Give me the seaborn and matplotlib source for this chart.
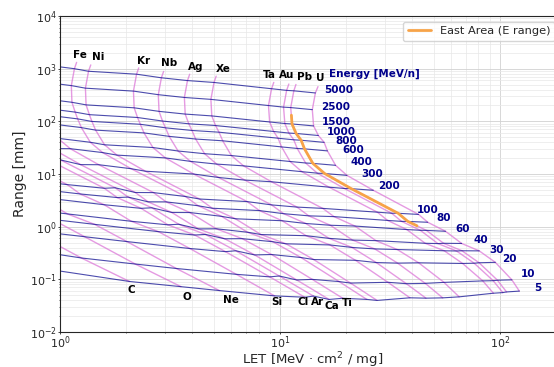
import matplotlib
matplotlib.use("Agg")
import matplotlib.pyplot as plt
import pandas as pd
import seaborn as sns

# --- DATA ---
# energy grid [MeV/n]; the first value only extends the ion curves upwards
energies = [6500, 5000, 2500, 1500, 1000, 800, 600, 400, 300, 200,
            100, 80, 60, 40, 30, 20, 10, 5]
line_energies = [5000, 2500, 1500, 1000, 800, 600, 400, 300, 200,
                 100, 80, 60, 40, 30, 20, 10, 5]
ions = ["Be", "C", "O", "Ne", "Si", "Cl", "Ar", "Ca", "Ti", "Fe", "Ni",
        "Kr", "Nb", "Ag", "Xe", "Ta", "Au", "Pb", "U"]

# LET in silicon [MeV cm2/mg], one value per energy
let_Be = [0.0282, 0.0275, 0.0266, 0.0268, 0.0277, 0.0283, 0.0294, 0.0323, 0.0368, 0.0496, 0.088, 0.1008, 0.1296, 0.1728, 0.2304, 0.3248, 0.56, 0.943]
let_C = [0.0634, 0.0619, 0.0599, 0.0603, 0.0623, 0.0637, 0.0662, 0.0727, 0.0828, 0.1116, 0.198, 0.2268, 0.2916, 0.3888, 0.5184, 0.7308, 1.251, 2.069]
let_O = [0.1126, 0.1101, 0.1066, 0.1072, 0.1107, 0.1133, 0.1178, 0.1293, 0.1472, 0.1984, 0.352, 0.4032, 0.5184, 0.6912, 0.9216, 1.295, 2.200, 3.549]
let_Ne = [0.176, 0.172, 0.1665, 0.1675, 0.173, 0.177, 0.184, 0.202, 0.230, 0.310, 0.550, 0.630, 0.810, 1.080, 1.437, 2.016, 3.381, 5.307]
let_Si = [0.345, 0.337, 0.326, 0.328, 0.339, 0.347, 0.361, 0.396, 0.451, 0.608, 1.078, 1.235, 1.588, 2.110, 2.800, 3.895, 6.339, 9.458]
let_Cl = [0.509, 0.497, 0.481, 0.484, 0.500, 0.512, 0.532, 0.584, 0.665, 0.896, 1.590, 1.821, 2.336, 3.096, 4.099, 5.656, 8.992, 12.98]
let_Ar = [0.570, 0.557, 0.539, 0.543, 0.561, 0.573, 0.596, 0.654, 0.745, 1.004, 1.782, 2.041, 2.616, 3.468, 4.582, 6.301, 9.934, 14.21]
let_Ca = [0.704, 0.688, 0.666, 0.670, 0.692, 0.708, 0.736, 0.808, 0.920, 1.240, 2.200, 2.515, 3.224, 4.264, 5.616, 7.682, 11.93, 16.73]
let_Ti = [0.852, 0.832, 0.806, 0.811, 0.837, 0.857, 0.891, 0.978, 1.113, 1.500, 2.662, 3.040, 3.893, 5.133, 6.740, 9.167, 14.03, 19.32]
let_Fe = [1.190, 1.163, 1.126, 1.133, 1.172, 1.203, 1.251, 1.373, 1.563, 2.107, 3.722, 4.250, 5.432, 7.118, 9.284, 12.47, 18.58, 24.83]
let_Ni = [1.380, 1.348, 1.305, 1.314, 1.360, 1.397, 1.452, 1.594, 1.815, 2.446, 4.310, 4.922, 6.277, 8.200, 10.66, 14.25, 20.95, 27.65]
let_Kr = [2.281, 2.229, 2.158, 2.174, 2.252, 2.319, 2.410, 2.646, 3.013, 4.053, 7.097, 8.072, 10.23, 13.16, 16.89, 22.06, 30.99, 39.01]
let_Nb = [2.959, 2.891, 2.799, 2.821, 2.925, 3.017, 3.136, 3.443, 3.920, 5.262, 9.161, 10.40, 13.11, 16.72, 21.27, 27.43, 37.56, 46.16]
let_Ag = [3.888, 3.799, 3.678, 3.710, 3.851, 3.982, 4.139, 4.544, 5.158, 6.925, 11.96, 13.52, 16.95, 21.39, 27.00, 34.30, 45.82, 54.99]
let_Xe = [5.132, 5.016, 4.855, 4.901, 5.097, 5.286, 5.495, 6.015, 6.835, 9.148, 15.65, 17.62, 21.94, 27.33, 34.17, 42.75, 55.77, 65.31]
let_Ta = [9.379, 9.166, 8.873, 8.982, 9.365, 9.809, 10.18, 11.12, 12.59, 16.73, 27.75, 30.89, 37.76, 45.77, 55.88, 67.74, 83.69, 93.54]
let_Au = [10.98, 10.73, 10.39, 10.53, 10.99, 11.56, 11.99, 13.09, 14.79, 19.62, 32.21, 35.76, 43.51, 52.28, 63.55, 76.46, 93.30, 103.2]
let_Pb = [11.83, 11.57, 11.20, 11.35, 11.85, 12.49, 12.94, 14.12, 15.97, 21.12, 34.49, 38.18, 46.37, 55.50, 67.25, 80.47, 97.61, 107.3]
let_U = [14.90, 14.50, 14.04, 14.23, 14.96, 15.89, 16.45, 17.91, 20.18, 26.59, 42.72, 47.03, 56.65, 67.09, 80.63, 95.43, 113.5, 122.7]

# range in silicon [mm], one value per energy
rng_Be = [8778, 6656, 3178, 1532, 998.3, 740.1, 504.9, 263.9, 167.0, 82.05, 24.04, 15.95, 9.926, 4.774, 3.027, 1.419, 0.4236, 0.149]
rng_C = [5222, 3960, 1891, 911, 594, 440, 300, 157, 99.3, 48.8, 14.33, 9.52, 5.93, 2.873, 1.818, 0.851, 0.2544, 0.0911]
rng_O = [3928, 2978, 1422, 685.5, 446.7, 331.2, 225.9, 118.1, 74.7, 36.7, 10.80, 7.19, 4.494, 2.172, 1.374, 0.644, 0.1951, 0.0726]
rng_Ne = [3149, 2387, 1140, 549.5, 358.1, 265.5, 181.1, 94.7, 59.9, 29.5, 8.70, 5.79, 3.62, 1.747, 1.106, 0.521, 0.1607, 0.0612]
rng_Si = [2256, 1710, 816.8, 393.6, 256.5, 190.2, 129.7, 67.8, 43.0, 21.19, 6.29, 4.18, 2.61, 1.265, 0.805, 0.3846, 0.1244, 0.0485]
rng_Cl = [1916, 1453, 693.7, 334.3, 217.9, 161.5, 110.2, 57.8, 36.6, 18.1, 5.36, 3.57, 2.229, 1.084, 0.694, 0.3356, 0.1114, 0.0457]
rng_Ar = [1956, 1483, 708.1, 341.3, 222.4, 164.9, 112.5, 58.97, 37.38, 18.53, 5.475, 3.646, 2.282, 1.111, 0.7132, 0.3486, 0.1157, 0.0481]
rng_Ca = [1585, 1202, 573.9, 276.6, 180.3, 133.6, 91.3, 47.8, 30.4, 15.07, 4.454, 2.963, 1.860, 0.907, 0.588, 0.2906, 0.0972, 0.0415]
rng_Ti = [1574, 1193, 569.9, 274.7, 179.0, 132.7, 90.8, 47.6, 30.28, 15.01, 4.435, 2.956, 1.855, 0.9128, 0.5916, 0.2958, 0.0998, 0.0437]
rng_Fe = [1316, 998.4, 476.8, 229.8, 149.7, 111.3, 76.0, 40.05, 25.5, 12.6, 3.735, 2.494, 1.569, 0.7843, 0.5175, 0.2596, 0.0907, 0.0416]
rng_Ni = [1177, 892.5, 426.2, 205.4, 133.9, 99.5, 68.1, 35.87, 22.84, 11.29, 3.351, 2.240, 1.413, 0.709, 0.4727, 0.2375, 0.0849, 0.0398]
rng_Kr = [1035, 784.9, 374.8, 180.6, 118.2, 87.9, 60.3, 31.81, 20.22, 9.99, 2.993, 2.020, 1.296, 0.6735, 0.4498, 0.2299, 0.0878, 0.0446]
rng_Nb = [885.3, 671.2, 320.6, 154.6, 101.3, 75.3, 51.85, 27.33, 17.37, 8.583, 2.591, 1.764, 1.149, 0.6002, 0.4034, 0.2083, 0.0827, 0.0439]
rng_Ag = [783.9, 594.3, 283.9, 137.3, 89.83, 67.1, 46.12, 24.29, 15.42, 7.662, 2.353, 1.605, 1.064, 0.5565, 0.3781, 0.2032, 0.0838, 0.0445]
rng_Xe = [721.7, 547.1, 261.3, 126.7, 83.24, 62.18, 42.69, 22.40, 14.27, 7.124, 2.225, 1.552, 1.027, 0.543, 0.3681, 0.2060, 0.0875, 0.0465]
rng_Ta = [548.8, 416.1, 199.5, 97.23, 64.19, 47.81, 32.67, 17.28, 11.07, 5.620, 1.884, 1.313, 0.8815, 0.4836, 0.3487, 0.2002, 0.0934, 0.0545]
rng_Au = [510.6, 387.1, 186.1, 90.87, 59.88, 44.60, 30.56, 16.18, 10.37, 5.314, 1.800, 1.261, 0.8526, 0.4775, 0.3454, 0.2024, 0.0943, 0.0560]
rng_Pb = [500.7, 379.6, 182.5, 89.27, 58.82, 43.73, 30.02, 15.91, 10.22, 5.263, 1.795, 1.257, 0.8492, 0.4835, 0.3490, 0.2065, 0.0961, 0.0576]
rng_U = [456.1, 345.8, 166.7, 81.84, 53.82, 39.9, 27.47, 14.62, 9.41, 4.906, 1.708, 1.212, 0.8173, 0.4796, 0.3469, 0.2101, 0.0977, 0.0598]

# East Area energy window (Pb beam)
east_energy = [2000, 1500, 1000, 800, 600, 400, 300, 200, 100, 80, 70]
east_let = [11.28, 11.35, 11.85, 12.49, 12.94, 14.12, 15.97, 21.12, 34.49, 38.18, 42.0]
east_range = [131, 89.27, 58.82, 43.73, 30.02, 15.91, 10.22, 5.263, 1.795, 1.257, 1.04]

# --- LABEL PLACEMENT (data coordinates) ---
top_ions = ["Fe", "Ni", "Kr", "Nb", "Ag", "Xe", "Ta", "Au", "Pb", "U"]
top_x = [1.237, 1.491, 2.409, 3.12, 4.15, 5.52, 8.94, 10.68, 13.0, 15.2]
top_y = [1820, 1690, 1400, 1266, 1091, 974, 760, 760, 705, 657]
bottom_ions = ["C", "O", "Ne", "Si", "Cl", "Ar", "Ca", "Ti"]
bottom_x = [2.118, 3.79, 5.975, 9.69, 12.76, 14.84, 17.3, 20.17]
bottom_y = [0.0632, 0.0472, 0.0408, 0.0379, 0.0379, 0.0379, 0.0314, 0.0353]
elabel_x = [15.9, 15.36, 15.57, 16.3, 17.9, 19.2, 21.0, 23.5, 28.0,
            41.8, 51.5, 63.1, 75.7, 89.3, 102, 124, 144]
elabel_y = [394, 185, 98.7, 63.8, 43.0, 28.3, 17.2, 10.0, 5.94,
            2.08, 1.45, 0.897, 0.562, 0.363, 0.245, 0.1256, 0.0699]

# --- BUILD TABLE ---
ion_let = dict(zip(ions, [let_Be, let_C, let_O, let_Ne, let_Si, let_Cl, let_Ar,
                          let_Ca, let_Ti, let_Fe, let_Ni, let_Kr, let_Nb, let_Ag,
                          let_Xe, let_Ta, let_Au, let_Pb, let_U]))
ion_rng = dict(zip(ions, [rng_Be, rng_C, rng_O, rng_Ne, rng_Si, rng_Cl, rng_Ar,
                          rng_Ca, rng_Ti, rng_Fe, rng_Ni, rng_Kr, rng_Nb, rng_Ag,
                          rng_Xe, rng_Ta, rng_Au, rng_Pb, rng_U]))
rows = []
for ion in ions:
    for e, l, r in zip(energies, ion_let[ion], ion_rng[ion]):
        rows.append((ion, e, l, r))
df = pd.DataFrame(rows, columns=["ion", "energy", "let", "range"])
df_lines = df[df["energy"].isin(line_energies)]
df_ions = df[df["ion"] != "Be"]

# --- PLOT ---
sns.set_style("ticks")
plt.rcParams["font.family"] = ["DejaVu Sans"]

fig = plt.figure(figsize=(5.54, 3.67), dpi=100)
ax = fig.add_axes([60 / 554, 35 / 367, 506 / 554, 316 / 367])
ax.set_xscale("log")
ax.set_yscale("log")

sns.lineplot(data=df_ions, x="let", y="range", units="ion", estimator=None,
             sort=False, color="orchid", alpha=0.7, lw=1.0, ax=ax, legend=False)
sns.lineplot(data=df_lines, x="let", y="range", units="energy", estimator=None,
             sort=False, color="darkblue", alpha=0.7, lw=0.8, ax=ax, legend=False)
sns.lineplot(x=east_let, y=east_range, estimator=None, sort=False,
             color="#f7a348", lw=2, label="East Area (E range)", ax=ax)

for name, x, y in zip(top_ions, top_x, top_y):
    ax.text(x, y, name, ha="center", va="center", fontsize=7.5,
            fontweight="bold", color="black")
for name, x, y in zip(bottom_ions, bottom_x, bottom_y):
    ax.text(x, y, name, ha="center", va="center", fontsize=7.5,
            fontweight="bold", color="black")
for e, x, y in zip(line_energies, elabel_x, elabel_y):
    ax.text(x, y, str(e), ha="left", va="center", fontsize=7.5,
            fontweight="bold", color="darkblue")
ax.text(16.75, 793, "Energy [MeV/n]", ha="left", va="center", fontsize=7.5,
        fontweight="bold", color="darkblue")

ax.set_xlim(1, 200)
ax.set_ylim(1e-2, 1e4)
ax.grid(True, which="major", color="0.82", lw=0.6)
ax.grid(True, which="minor", color="0.91", lw=0.5)
ax.tick_params(which="both", direction="out", labelsize=8, pad=1.0)
ax.tick_params(axis="x", which="both", pad=0.0)
ax.tick_params(which="major", length=1.5, width=0.6)
ax.tick_params(which="minor", length=1.0, width=0.5)
ax.set_xlabel("LET [MeV · cm$^2$ / mg]", fontsize=9.5)
ax.set_ylabel("Range [mm]", fontsize=10, labelpad=2)
ax.xaxis.set_label_coords(0.5, -0.058)
ax.legend(loc="upper left", bbox_to_anchor=(0.667, 1.0), fontsize=8.2)

fig.savefig("out.png", dpi=100)
